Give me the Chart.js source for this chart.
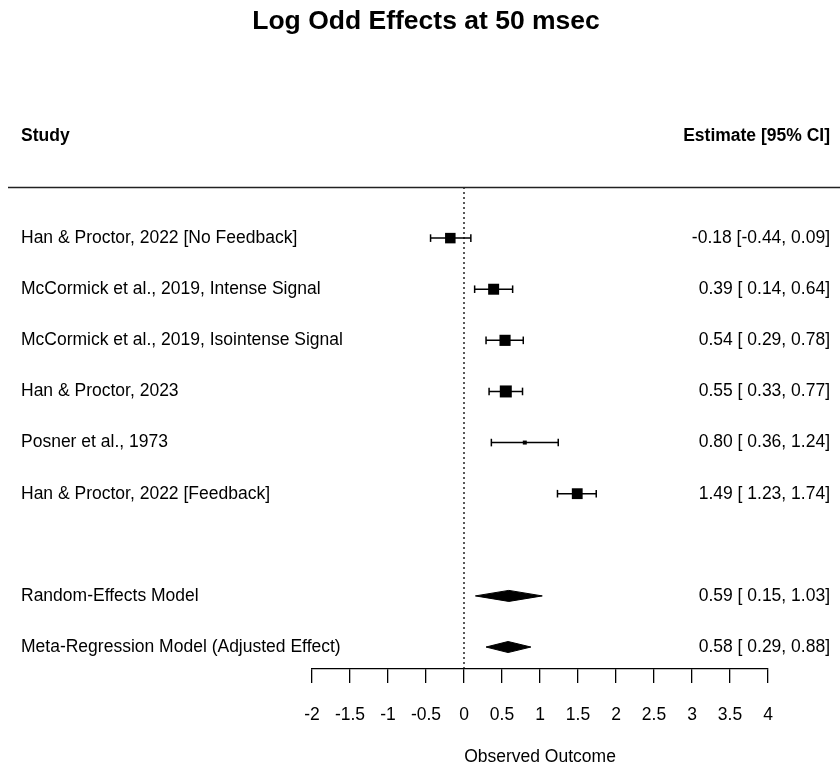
<!DOCTYPE html>
<html>
<head>
<meta charset="utf-8">
<script src="https://cdn.jsdelivr.net/npm/chart.js@4.4.1/dist/chart.umd.min.js"></script>
<style>
  html, body { margin: 0; padding: 0; background: #fff; }
</style>
</head>
<body>
<canvas id="forest" width="840" height="763"></canvas>
<script>
// study rows, top to bottom
const studies = [
  "Han & Proctor, 2022 [No Feedback]",
  "McCormick et al., 2019, Intense Signal",
  "McCormick et al., 2019, Isointense Signal",
  "Han & Proctor, 2023",
  "Posner et al., 1973",
  "Han & Proctor, 2022 [Feedback]"
];
const estimates = [-0.18, 0.39, 0.54, 0.55, 0.80, 1.49];
const lowerCI   = [-0.44, 0.14, 0.29, 0.33, 0.36, 1.23];
const upperCI   = [ 0.09, 0.64, 0.78, 0.77, 1.24, 1.74];

// pooled estimates
const models     = ["Random-Effects Model", "Meta-Regression Model (Adjusted Effect)"];
const modelEst   = [0.59, 0.58];
const modelLower = [0.15, 0.29];
const modelUpper = [1.03, 0.88];

const xTicks = [-2, -1.5, -1, -0.5, 0, 0.5, 1, 1.5, 2, 2.5, 3, 3.5, 4];

const titleText = "Log Odd Effects at 50 msec";
const xTitle = "Observed Outcome";

// row positions (1 = first study), models sit after a blank gap
const studyRows = studies.map((s, i) => i + 1);
const modelRows = models.map((m, i) => studies.length + 2 + i);
const axisRow = modelRows[modelRows.length - 1] + 0.43;

const fmt = v => (v < 0 ? "" : " ") + v.toFixed(2);
const ciText = (e, lo, hi) => e.toFixed(2) + " [" + fmt(lo) + "," + fmt(hi) + "]";

// square size scaled by precision (1 / SE), like metafor does
const precision = lowerCI.map((lo, i) => 3.92 / (upperCI[i] - lo));
const pMin = Math.min(...precision), pMax = Math.max(...precision);
const squareSide = precision.map(p => 4 + Math.sqrt((p - pMin) / (pMax - pMin)) * 8);

const FONT = '"Liberation Sans", Arial, Helvetica, sans-serif';
const FS = 17.5;

const datasets = [];

// study squares
datasets.push({
  type: 'scatter',
  data: estimates.map((e, i) => ({ x: e, y: studyRows[i] })),
  pointStyle: 'rect',
  pointRadius: squareSide.map(s => s / Math.SQRT2),
  pointBackgroundColor: '#000',
  pointBorderWidth: 0,
  clip: false
});

// confidence interval whiskers with end caps
lowerCI.forEach((lo, i) => {
  datasets.push({
    type: 'line',
    data: [{ x: lo, y: studyRows[i] }, { x: upperCI[i], y: studyRows[i] }],
    borderColor: '#000',
    borderWidth: 1.5,
    pointStyle: 'line',
    pointRotation: 90,
    pointRadius: 3.8,
    pointBorderColor: '#000',
    pointBorderWidth: 1.5,
    fill: false
  });
});

// summary diamonds
const halfH = 0.108;
modelEst.forEach((e, i) => {
  const r = modelRows[i];
  datasets.push({
    type: 'line',
    data: [
      { x: modelLower[i], y: r },
      { x: e, y: r - halfH },
      { x: modelUpper[i], y: r },
      { x: e, y: r + halfH },
      { x: modelLower[i], y: r }
    ],
    borderColor: '#000',
    borderWidth: 1,
    backgroundColor: '#000',
    pointRadius: 0,
    tension: 0,
    fill: 'shape'
  });
});

// dotted reference line at zero
datasets.push({
  type: 'line',
  data: [{ x: 0, y: 0 }, { x: 0, y: axisRow }],
  borderColor: '#000',
  borderWidth: 1.3,
  borderDash: [2, 3],
  pointRadius: 0,
  fill: false
});

const forestText = {
  id: 'forestText',
  afterDraw(chart) {
    const ctx = chart.ctx;
    const ys = chart.scales.y;
    const W = chart.width;
    ctx.save();
    ctx.fillStyle = '#000';
    ctx.textBaseline = 'middle';

    ctx.font = 'bold 26.5px ' + FONT;
    ctx.textAlign = 'center';
    ctx.fillText(titleText, 426, 22);

    // column headers and rule
    const hy = ys.getPixelForValue(-1);
    ctx.font = 'bold ' + FS + 'px ' + FONT;
    ctx.textAlign = 'left';
    ctx.fillText("Study", 21, hy);
    ctx.textAlign = 'right';
    ctx.fillText("Estimate [95% CI]", 830, hy);

    const ly = Math.round(ys.getPixelForValue(0)) + 0.5;
    ctx.strokeStyle = '#222';
    ctx.lineWidth = 1.5;
    ctx.beginPath();
    ctx.moveTo(8, ly);
    ctx.lineTo(W, ly);
    ctx.stroke();

    ctx.font = FS + 'px ' + FONT;
    studies.forEach((s, i) => {
      const y = ys.getPixelForValue(studyRows[i]);
      ctx.textAlign = 'left';
      ctx.fillText(s, 21, y);
      ctx.textAlign = 'right';
      ctx.fillText(ciText(estimates[i], lowerCI[i], upperCI[i]), 830, y);
    });
    models.forEach((m, i) => {
      const y = ys.getPixelForValue(modelRows[i]);
      ctx.textAlign = 'left';
      ctx.fillText(m, 21, y);
      ctx.textAlign = 'right';
      ctx.fillText(ciText(modelEst[i], modelLower[i], modelUpper[i]), 830, y);
    });
    ctx.restore();
  }
};

new Chart(document.getElementById('forest'), {
  type: 'scatter',
  data: { datasets },
  options: {
    responsive: false,
    animation: false,
    layout: { padding: { left: 312, right: 72, top: 187, bottom: 0 } },
    plugins: {
      legend: { display: false },
      tooltip: { enabled: false }
    },
    scales: {
      x: {
        type: 'linear',
        min: xTicks[0],
        max: xTicks[xTicks.length - 1],
        afterBuildTicks: axis => { axis.ticks = xTicks.map(v => ({ value: v })); },
        border: { display: true, color: '#000', width: 1.3 },
        grid: {
          drawOnChartArea: false,
          drawTicks: true,
          tickLength: 14,
          color: '#000',
          lineWidth: 1.3
        },
        ticks: {
          color: '#000',
          font: { family: FONT, size: FS },
          padding: 22,
          maxRotation: 0,
          autoSkip: false,
          callback: v => String(v)
        },
        title: {
          display: true,
          text: xTitle,
          color: '#000',
          font: { family: FONT, size: FS },
          padding: { top: -1, bottom: -5 }
        }
      },
      y: {
        type: 'linear',
        display: false,
        reverse: true,
        min: 0,
        max: axisRow
      }
    }
  },
  plugins: [forestText]
});
</script>
</body>
</html>
